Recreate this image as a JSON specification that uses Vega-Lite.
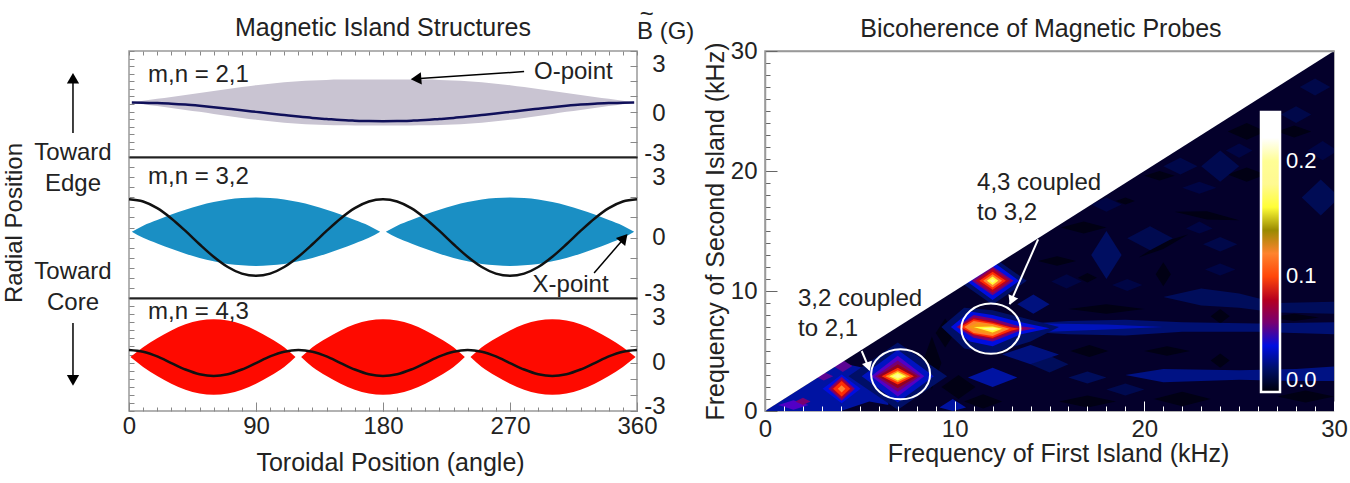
{
"$schema":"https://vega.github.io/schema/vega-lite/v6.json",
"background":"white",
"padding":{"left":2,"top":2,"right":0,"bottom":0},
"config":{"font":"Liberation Sans","view":{"stroke":"#999","strokeWidth":1.5},"axis":{"grid":false,"labelColor":"#222","titleColor":"#222","labelFontSize":24,"titleFontSize":25,"titleFontWeight":"normal"},"text":{"fontSize":24,"color":"#222"}},
"datasets":{
"island21":[{"a":2,"hi":0.6,"lo":0.6},{"a":10,"hi":0.72,"lo":0.48},{"a":20,"hi":0.84,"lo":0.36},{"a":30,"hi":0.96,"lo":0.24},{"a":40,"hi":1.09,"lo":0.11},{"a":50,"hi":1.22,"lo":-0.02},{"a":60,"hi":1.36,"lo":-0.16},{"a":70,"hi":1.49,"lo":-0.29},{"a":80,"hi":1.62,"lo":-0.42},{"a":90,"hi":1.74,"lo":-0.54},{"a":100,"hi":1.84,"lo":-0.64},{"a":110,"hi":1.93,"lo":-0.73},{"a":120,"hi":2,"lo":-0.8},{"a":130,"hi":2.05,"lo":-0.85},{"a":140,"hi":2.09,"lo":-0.89},{"a":150,"hi":2.11,"lo":-0.91},{"a":160,"hi":2.12,"lo":-0.92},{"a":180,"hi":2.12,"lo":-0.92},{"a":200,"hi":2.12,"lo":-0.92},{"a":210,"hi":2.11,"lo":-0.91},{"a":220,"hi":2.09,"lo":-0.89},{"a":230,"hi":2.05,"lo":-0.85},{"a":240,"hi":2,"lo":-0.8},{"a":250,"hi":1.93,"lo":-0.73},{"a":260,"hi":1.84,"lo":-0.64},{"a":270,"hi":1.74,"lo":-0.54},{"a":280,"hi":1.62,"lo":-0.42},{"a":290,"hi":1.49,"lo":-0.29},{"a":300,"hi":1.36,"lo":-0.16},{"a":310,"hi":1.22,"lo":-0.02},{"a":320,"hi":1.09,"lo":0.11},{"a":330,"hi":0.96,"lo":0.24},{"a":340,"hi":0.84,"lo":0.36},{"a":350,"hi":0.72,"lo":0.48},{"a":358,"hi":0.6,"lo":0.6}],
"curve21":[{"a":2,"b":0.6},{"a":10,"b":0.59},{"a":20,"b":0.56},{"a":30,"b":0.52},{"a":40,"b":0.46},{"a":50,"b":0.38},{"a":60,"b":0.29},{"a":70,"b":0.19},{"a":80,"b":0.09},{"a":90,"b":-0.02},{"a":100,"b":-0.13},{"a":110,"b":-0.23},{"a":120,"b":-0.33},{"a":130,"b":-0.42},{"a":140,"b":-0.49},{"a":150,"b":-0.56},{"a":160,"b":-0.6},{"a":170,"b":-0.63},{"a":180,"b":-0.64},{"a":190,"b":-0.63},{"a":200,"b":-0.6},{"a":210,"b":-0.56},{"a":220,"b":-0.49},{"a":230,"b":-0.42},{"a":240,"b":-0.33},{"a":250,"b":-0.23},{"a":260,"b":-0.13},{"a":270,"b":-0.02},{"a":280,"b":0.09},{"a":290,"b":0.19},{"a":300,"b":0.29},{"a":310,"b":0.38},{"a":320,"b":0.46},{"a":330,"b":0.52},{"a":340,"b":0.56},{"a":350,"b":0.59},{"a":358,"b":0.6}],
"island32":[{"i":1,"a":2,"hi":0.29,"lo":0.29},{"i":1,"a":10,"hi":0.59,"lo":-0.01},{"i":1,"a":20,"hi":0.87,"lo":-0.29},{"i":1,"a":30,"hi":1.14,"lo":-0.56},{"i":1,"a":40,"hi":1.38,"lo":-0.8},{"i":1,"a":50,"hi":1.59,"lo":-1.01},{"i":1,"a":60,"hi":1.76,"lo":-1.18},{"i":1,"a":70,"hi":1.89,"lo":-1.31},{"i":1,"a":80,"hi":1.96,"lo":-1.38},{"i":1,"a":90,"hi":1.99,"lo":-1.41},{"i":1,"a":100,"hi":1.96,"lo":-1.38},{"i":1,"a":110,"hi":1.89,"lo":-1.31},{"i":1,"a":120,"hi":1.76,"lo":-1.18},{"i":1,"a":130,"hi":1.59,"lo":-1.01},{"i":1,"a":140,"hi":1.38,"lo":-0.8},{"i":1,"a":150,"hi":1.14,"lo":-0.56},{"i":1,"a":160,"hi":0.87,"lo":-0.29},{"i":1,"a":170,"hi":0.59,"lo":-0.01},{"i":1,"a":178,"hi":0.29,"lo":0.29},
{"i":2,"a":182,"hi":0.29,"lo":0.29},{"i":2,"a":190,"hi":0.59,"lo":-0.01},{"i":2,"a":200,"hi":0.87,"lo":-0.29},{"i":2,"a":210,"hi":1.14,"lo":-0.56},{"i":2,"a":220,"hi":1.38,"lo":-0.8},{"i":2,"a":230,"hi":1.59,"lo":-1.01},{"i":2,"a":240,"hi":1.76,"lo":-1.18},{"i":2,"a":250,"hi":1.89,"lo":-1.31},{"i":2,"a":260,"hi":1.96,"lo":-1.38},{"i":2,"a":270,"hi":1.99,"lo":-1.41},{"i":2,"a":280,"hi":1.96,"lo":-1.38},{"i":2,"a":290,"hi":1.89,"lo":-1.31},{"i":2,"a":300,"hi":1.76,"lo":-1.18},{"i":2,"a":310,"hi":1.59,"lo":-1.01},{"i":2,"a":320,"hi":1.38,"lo":-0.8},{"i":2,"a":330,"hi":1.14,"lo":-0.56},{"i":2,"a":340,"hi":0.87,"lo":-0.29},{"i":2,"a":350,"hi":0.59,"lo":-0.01},{"i":2,"a":358,"hi":0.29,"lo":0.29}],
"curve32":[{"a":0,"b":1.9},{"a":10,"b":1.79},{"a":20,"b":1.46},{"a":30,"b":0.95},{"a":40,"b":0.33},{"a":50,"b":-0.33},{"a":60,"b":-0.95},{"a":70,"b":-1.46},{"a":80,"b":-1.79},{"a":90,"b":-1.9},{"a":100,"b":-1.79},{"a":110,"b":-1.46},{"a":120,"b":-0.95},{"a":130,"b":-0.33},{"a":140,"b":0.33},{"a":150,"b":0.95},{"a":160,"b":1.46},{"a":170,"b":1.79},{"a":180,"b":1.9},{"a":190,"b":1.79},{"a":200,"b":1.46},{"a":210,"b":0.95},{"a":220,"b":0.33},{"a":230,"b":-0.33},{"a":240,"b":-0.95},{"a":250,"b":-1.46},{"a":260,"b":-1.79},{"a":270,"b":-1.9},{"a":280,"b":-1.79},{"a":290,"b":-1.46},{"a":300,"b":-0.95},{"a":310,"b":-0.33},{"a":320,"b":0.33},{"a":330,"b":0.95},{"a":340,"b":1.46},{"a":350,"b":1.79},{"a":360,"b":1.9}],
"island43":[{"i":1,"a":1,"hi":0.34,"lo":0.34},{"i":1,"a":10,"hi":0.95,"lo":-0.27},{"i":1,"a":20,"hi":1.51,"lo":-0.83},{"i":1,"a":30,"hi":1.99,"lo":-1.31},{"i":1,"a":40,"hi":2.37,"lo":-1.69},{"i":1,"a":50,"hi":2.6,"lo":-1.92},{"i":1,"a":60,"hi":2.68,"lo":-2},{"i":1,"a":70,"hi":2.6,"lo":-1.92},{"i":1,"a":80,"hi":2.37,"lo":-1.69},{"i":1,"a":90,"hi":1.99,"lo":-1.31},{"i":1,"a":100,"hi":1.51,"lo":-0.83},{"i":1,"a":110,"hi":0.95,"lo":-0.27},{"i":1,"a":118,"hi":0.34,"lo":0.34},
{"i":2,"a":122,"hi":0.34,"lo":0.34},{"i":2,"a":130,"hi":0.95,"lo":-0.27},{"i":2,"a":140,"hi":1.51,"lo":-0.83},{"i":2,"a":150,"hi":1.99,"lo":-1.31},{"i":2,"a":160,"hi":2.37,"lo":-1.69},{"i":2,"a":170,"hi":2.6,"lo":-1.92},{"i":2,"a":180,"hi":2.68,"lo":-2},{"i":2,"a":190,"hi":2.6,"lo":-1.92},{"i":2,"a":200,"hi":2.37,"lo":-1.69},{"i":2,"a":210,"hi":1.99,"lo":-1.31},{"i":2,"a":220,"hi":1.51,"lo":-0.83},{"i":2,"a":230,"hi":0.95,"lo":-0.27},{"i":2,"a":238,"hi":0.34,"lo":0.34},
{"i":3,"a":242,"hi":0.34,"lo":0.34},{"i":3,"a":250,"hi":0.95,"lo":-0.27},{"i":3,"a":260,"hi":1.51,"lo":-0.83},{"i":3,"a":270,"hi":1.99,"lo":-1.31},{"i":3,"a":280,"hi":2.37,"lo":-1.69},{"i":3,"a":290,"hi":2.6,"lo":-1.92},{"i":3,"a":300,"hi":2.68,"lo":-2},{"i":3,"a":310,"hi":2.6,"lo":-1.92},{"i":3,"a":320,"hi":2.37,"lo":-1.69},{"i":3,"a":330,"hi":1.99,"lo":-1.31},{"i":3,"a":340,"hi":1.51,"lo":-0.83},{"i":3,"a":350,"hi":0.95,"lo":-0.27},{"i":3,"a":359,"hi":0.34,"lo":0.34}],
"curve43":[{"a":0,"b":0.78},{"a":10,"b":0.67},{"a":20,"b":0.38},{"a":30,"b":-0.03},{"a":40,"b":-0.43},{"a":50,"b":-0.72},{"a":60,"b":-0.83},{"a":70,"b":-0.72},{"a":80,"b":-0.43},{"a":90,"b":-0.03},{"a":100,"b":0.38},{"a":110,"b":0.67},{"a":120,"b":0.78},{"a":130,"b":0.67},{"a":140,"b":0.38},{"a":150,"b":-0.03},{"a":160,"b":-0.43},{"a":170,"b":-0.72},{"a":180,"b":-0.83},{"a":190,"b":-0.72},{"a":200,"b":-0.43},{"a":210,"b":-0.03},{"a":220,"b":0.38},{"a":230,"b":0.67},{"a":240,"b":0.78},{"a":250,"b":0.67},{"a":260,"b":0.38},{"a":270,"b":-0.03},{"a":280,"b":-0.43},{"a":290,"b":-0.72},{"a":300,"b":-0.83},{"a":310,"b":-0.72},{"a":320,"b":-0.43},{"a":330,"b":-0.03},{"a":340,"b":0.38},{"a":350,"b":0.67},{"a":360,"b":0.78}],
"contours":[
{"c":0,"v":0.008,"x":0,"y":30,"y2":0},{"c":0,"v":0.008,"x":30,"y":30,"y2":0},
{"c":1,"v":0.03,"x":0,"y":0,"y2":0},{"c":1,"v":0.03,"x":2,"y":2,"y2":0},{"c":1,"v":0.03,"x":4,"y":4,"y2":0},{"c":1,"v":0.03,"x":5.5,"y":3.5,"y2":0.8},{"c":1,"v":0.03,"x":6.5,"y":1,"y2":0.5},
{"c":2,"v":0.002,"x":15.6,"y":15.3,"y2":15.3},{"c":2,"v":0.002,"x":16.8,"y":15.8,"y2":14.8},{"c":2,"v":0.002,"x":18,"y":15.3,"y2":15.3},
{"c":3,"v":0.002,"x":18.5,"y":17.5,"y2":17.5},{"c":3,"v":0.002,"x":19,"y":17.8,"y2":17.2},{"c":3,"v":0.002,"x":19.5,"y":17.5,"y2":17.5},
{"c":4,"v":0.002,"x":20,"y":19.6,"y2":19.6},{"c":4,"v":0.002,"x":20.8,"y":20,"y2":19.2},{"c":4,"v":0.002,"x":21.6,"y":19.6,"y2":19.6},
{"c":5,"v":0.002,"x":21.6,"y":16.6,"y2":16.6},{"c":5,"v":0.002,"x":23.3,"y":16.65,"y2":15.95},{"c":5,"v":0.002,"x":25,"y":15.9,"y2":15.9},
{"c":6,"v":0.002,"x":19.7,"y":12.8,"y2":12.8},{"c":6,"v":0.002,"x":21,"y":14.1,"y2":13.5},{"c":6,"v":0.002,"x":22.3,"y":14.7,"y2":14.7},
{"c":7,"v":0.002,"x":20.6,"y":11.4,"y2":11.4},{"c":7,"v":0.002,"x":21,"y":12.4,"y2":10.4},{"c":7,"v":0.002,"x":21.4,"y":11.4,"y2":11.4},
{"c":8,"v":0.002,"x":16.5,"y":11.1,"y2":11.1},{"c":8,"v":0.002,"x":17,"y":11.5,"y2":10.7},{"c":8,"v":0.002,"x":17.5,"y":11.1,"y2":11.1},
{"c":9,"v":0.002,"x":14.4,"y":12.5,"y2":12.5},{"c":9,"v":0.002,"x":15.4,"y":12.9,"y2":12.1},{"c":9,"v":0.002,"x":16.4,"y":12.5,"y2":12.5},
{"c":10,"v":0.002,"x":27,"y":23.3,"y2":23.3},{"c":10,"v":0.002,"x":27.9,"y":23.8,"y2":22.8},{"c":10,"v":0.002,"x":28.8,"y":23.3,"y2":23.3},
{"c":11,"v":0.002,"x":24.4,"y":23.3,"y2":23.3},{"c":11,"v":0.002,"x":25.4,"y":24,"y2":22.6},{"c":11,"v":0.002,"x":26.4,"y":23.3,"y2":23.3},
{"c":12,"v":0.002,"x":24.4,"y":19.7,"y2":19.7},{"c":12,"v":0.002,"x":25.4,"y":20.3,"y2":19.1},{"c":12,"v":0.002,"x":26.4,"y":19.7,"y2":19.7},
{"c":13,"v":0.002,"x":23.5,"y":7.9,"y2":7.9},{"c":13,"v":0.002,"x":24,"y":8.5,"y2":7.3},{"c":13,"v":0.002,"x":24.5,"y":7.9,"y2":7.9},
{"c":14,"v":0.002,"x":26.6,"y":7.8,"y2":7.8},{"c":14,"v":0.002,"x":27.9,"y":8.1,"y2":7.5},{"c":14,"v":0.002,"x":29.2,"y":7.8,"y2":7.8},
{"c":15,"v":0.002,"x":16.1,"y":5,"y2":5},{"c":15,"v":0.002,"x":17.1,"y":5.5,"y2":4.5},{"c":15,"v":0.002,"x":18.1,"y":5,"y2":5},
{"c":16,"v":0.002,"x":20,"y":5,"y2":5},{"c":16,"v":0.002,"x":21.2,"y":5.4,"y2":4.6},{"c":16,"v":0.002,"x":22.4,"y":5,"y2":5},
{"c":17,"v":0.002,"x":23.5,"y":4.2,"y2":4.2},{"c":17,"v":0.002,"x":24,"y":4.8,"y2":3.6},{"c":17,"v":0.002,"x":24.5,"y":4.2,"y2":4.2},
{"c":18,"v":0.002,"x":16,"y":8.5,"y2":8.5},{"c":18,"v":0.002,"x":18,"y":8.9,"y2":8.1},{"c":18,"v":0.002,"x":20,"y":8.5,"y2":8.5},
{"c":19,"v":0.002,"x":20.5,"y":1,"y2":1},{"c":19,"v":0.002,"x":22,"y":1.6,"y2":0.4},{"c":19,"v":0.002,"x":23.5,"y":1,"y2":1},
{"c":20,"v":0.002,"x":15.5,"y":0.8,"y2":0.8},{"c":20,"v":0.002,"x":17,"y":1.3,"y2":0.3},{"c":20,"v":0.002,"x":18.5,"y":0.8,"y2":0.8},
{"c":21,"v":0.002,"x":27,"y":1.2,"y2":1.2},{"c":21,"v":0.002,"x":28.5,"y":1.7,"y2":0.7},{"c":21,"v":0.002,"x":30,"y":1.2,"y2":1.2},
{"c":22,"v":0.016,"x":23,"y":20.4,"y2":20.4},{"c":22,"v":0.016,"x":24,"y":21.7,"y2":19.1},{"c":22,"v":0.016,"x":25,"y":20.4,"y2":20.4},
{"c":23,"v":0.014,"x":24.3,"y":21.7,"y2":21.7},{"c":23,"v":0.014,"x":25,"y":22.3,"y2":21.1},{"c":23,"v":0.014,"x":25.7,"y":21.7,"y2":21.7},
{"c":24,"v":0.014,"x":22,"y":18.6,"y2":18.6},{"c":24,"v":0.014,"x":22.9,"y":19.1,"y2":18.1},{"c":24,"v":0.014,"x":23.8,"y":18.6,"y2":18.6},
{"c":25,"v":0.015,"x":21,"y":20.4,"y2":20.4},{"c":25,"v":0.015,"x":21.9,"y":21.1,"y2":19.7},{"c":25,"v":0.015,"x":22.8,"y":20.4,"y2":20.4},
{"c":26,"v":0.019,"x":17.2,"y":13,"y2":13},{"c":26,"v":0.019,"x":18,"y":15,"y2":11},{"c":26,"v":0.019,"x":18.8,"y":13,"y2":13},
{"c":27,"v":0.016,"x":19.1,"y":14.4,"y2":14.4},{"c":27,"v":0.016,"x":20.3,"y":15.4,"y2":13.4},{"c":27,"v":0.016,"x":21.5,"y":14.4,"y2":14.4},
{"c":28,"v":0.014,"x":22.2,"y":15.2,"y2":15.2},{"c":28,"v":0.014,"x":22.9,"y":15.8,"y2":14.8},{"c":28,"v":0.014,"x":23.6,"y":15.2,"y2":15.2},
{"c":29,"v":0.015,"x":23.1,"y":13.9,"y2":13.9},{"c":29,"v":0.015,"x":24,"y":14.5,"y2":13.3},{"c":29,"v":0.015,"x":24.9,"y":13.9,"y2":13.9},
{"c":30,"v":0.014,"x":23.2,"y":11.8,"y2":11.8},{"c":30,"v":0.014,"x":24,"y":12.3,"y2":11.3},{"c":30,"v":0.014,"x":24.8,"y":11.8,"y2":11.8},
{"c":31,"v":0.014,"x":15.1,"y":10.8,"y2":10.8},{"c":31,"v":0.014,"x":15.9,"y":11.4,"y2":10.2},{"c":31,"v":0.014,"x":16.7,"y":10.8,"y2":10.8},
{"c":32,"v":0.014,"x":18.3,"y":10.5,"y2":10.5},{"c":32,"v":0.014,"x":19.1,"y":11,"y2":10},{"c":32,"v":0.014,"x":19.9,"y":10.5,"y2":10.5},
{"c":33,"v":0.015,"x":27.2,"y":24.7,"y2":24.7},{"c":33,"v":0.015,"x":28,"y":25.4,"y2":24},{"c":33,"v":0.015,"x":28.8,"y":24.7,"y2":24.7},
{"c":34,"v":0.015,"x":28.2,"y":27,"y2":27},{"c":34,"v":0.015,"x":29,"y":27.7,"y2":26.3},{"c":34,"v":0.015,"x":29.8,"y":27,"y2":27},
{"c":35,"v":0.017,"x":28.3,"y":17.8,"y2":17.8},{"c":35,"v":0.017,"x":29.3,"y":19.3,"y2":16.3},{"c":35,"v":0.017,"x":30.3,"y":17.8,"y2":17.8},
{"c":36,"v":0.014,"x":28.6,"y":21.7,"y2":21.7},{"c":36,"v":0.014,"x":29.4,"y":22.5,"y2":20.9},{"c":36,"v":0.014,"x":30.2,"y":21.7,"y2":21.7},
{"c":37,"v":0.014,"x":17.2,"y":17.2,"y2":17.2},{"c":37,"v":0.014,"x":18,"y":17.8,"y2":16.6},{"c":37,"v":0.014,"x":18.8,"y":17.2,"y2":17.2},
{"c":38,"v":0.018,"x":21,"y":9.5,"y2":9.5},{"c":38,"v":0.018,"x":23,"y":10.2,"y2":8.8},{"c":38,"v":0.018,"x":25,"y":9.8,"y2":8.6},{"c":38,"v":0.018,"x":27,"y":9,"y2":8.2},{"c":38,"v":0.018,"x":30,"y":9.1,"y2":8.1},
{"c":39,"v":0.022,"x":13,"y":7.2,"y2":6.7},{"c":39,"v":0.022,"x":16,"y":7.5,"y2":6.4},{"c":39,"v":0.022,"x":19,"y":7.6,"y2":6.3},{"c":39,"v":0.022,"x":22,"y":7.4,"y2":6.6},{"c":39,"v":0.022,"x":26,"y":7.3,"y2":6.6},{"c":39,"v":0.022,"x":30,"y":7.4,"y2":6.4},
{"c":40,"v":0.034,"x":12.5,"y":7.25,"y2":6.6},{"c":40,"v":0.034,"x":15,"y":7.3,"y2":6.6},{"c":40,"v":0.034,"x":18,"y":7.2,"y2":6.8},{"c":40,"v":0.034,"x":21,"y":7,"y2":7},
{"c":41,"v":0.025,"x":19,"y":3,"y2":3},{"c":41,"v":0.025,"x":21,"y":3.5,"y2":2.4},{"c":41,"v":0.025,"x":25,"y":3.4,"y2":2.6},{"c":41,"v":0.025,"x":28,"y":3.5,"y2":2.5},{"c":41,"v":0.025,"x":30,"y":3.7,"y2":2.5},
{"c":42,"v":0.018,"x":14,"y":3.9,"y2":3.9},{"c":42,"v":0.018,"x":15,"y":4.6,"y2":3.2},{"c":42,"v":0.018,"x":16,"y":3.9,"y2":3.9},
{"c":43,"v":0.018,"x":16,"y":2.8,"y2":2.8},{"c":43,"v":0.018,"x":17,"y":3.3,"y2":2.3},{"c":43,"v":0.018,"x":18,"y":2.8,"y2":2.8},
{"c":44,"v":0.016,"x":18,"y":1.8,"y2":1.8},{"c":44,"v":0.016,"x":19,"y":2.3,"y2":1.3},{"c":44,"v":0.016,"x":20,"y":1.8,"y2":1.8},
{"c":45,"v":0.024,"x":13.3,"y":8.9,"y2":8.9},{"c":45,"v":0.024,"x":14.15,"y":9.7,"y2":8.1},{"c":45,"v":0.024,"x":15,"y":8.9,"y2":8.9},
{"c":46,"v":0.024,"x":12.5,"y":4.7,"y2":4.7},{"c":46,"v":0.024,"x":14,"y":5.5,"y2":3.9},{"c":46,"v":0.024,"x":15.5,"y":4.7,"y2":4.7},
{"c":47,"v":0.03,"x":10.7,"y":2.8,"y2":2.8},{"c":47,"v":0.03,"x":12,"y":3.6,"y2":2},{"c":47,"v":0.03,"x":13.3,"y":2.8,"y2":2.8},
{"c":48,"v":0.03,"x":9.2,"y":0.3,"y2":0.3},{"c":48,"v":0.03,"x":9.9,"y":1,"y2":0},{"c":48,"v":0.03,"x":10.6,"y":0.3,"y2":0.3},
{"c":49,"v":0.002,"x":8.3,"y":4,"y2":4},{"c":49,"v":0.002,"x":8.8,"y":6.2,"y2":1.8},{"c":49,"v":0.002,"x":9.3,"y":4,"y2":4},
{"c":50,"v":0.002,"x":9,"y":6.5,"y2":6.5},{"c":50,"v":0.002,"x":9.5,"y":7.7,"y2":5.3},{"c":50,"v":0.002,"x":10,"y":6.5,"y2":6.5},
{"c":51,"v":0.002,"x":9.3,"y":2,"y2":2},{"c":51,"v":0.002,"x":10.2,"y":3,"y2":1},{"c":51,"v":0.002,"x":11.1,"y":2,"y2":2},
{"c":52,"v":0.002,"x":10.5,"y":0.8,"y2":0.8},{"c":52,"v":0.002,"x":11.5,"y":1.4,"y2":0.2},{"c":52,"v":0.002,"x":12.5,"y":0.8,"y2":0.8},
{"c":53,"v":0.02,"x":4.4,"y":2.9,"y2":2.9},{"c":53,"v":0.02,"x":7,"y":5.7,"y2":0.1},{"c":53,"v":0.02,"x":9.6,"y":2.9,"y2":2.9},
{"c":54,"v":0.035,"x":5.1,"y":2.9,"y2":2.9},{"c":54,"v":0.035,"x":7,"y":5.1,"y2":0.7},{"c":54,"v":0.035,"x":8.9,"y":2.9,"y2":2.9},
{"c":55,"v":0.05,"x":5.6,"y":2.9,"y2":2.9},{"c":55,"v":0.05,"x":7,"y":4.6,"y2":1.2},{"c":55,"v":0.05,"x":8.4,"y":2.9,"y2":2.9},
{"c":56,"v":0.06,"x":5.8,"y":2.9,"y2":2.9},{"c":56,"v":0.06,"x":7,"y":4.2,"y2":1.6},{"c":56,"v":0.06,"x":8.2,"y":2.9,"y2":2.9},
{"c":57,"v":0.075,"x":5.95,"y":2.9,"y2":2.9},{"c":57,"v":0.075,"x":7,"y":3.9,"y2":1.9},{"c":57,"v":0.075,"x":8.05,"y":2.9,"y2":2.9},
{"c":58,"v":0.095,"x":6.15,"y":2.9,"y2":2.9},{"c":58,"v":0.095,"x":7,"y":3.6,"y2":2.2},{"c":58,"v":0.095,"x":7.85,"y":2.9,"y2":2.9},
{"c":59,"v":0.125,"x":6.35,"y":2.9,"y2":2.9},{"c":59,"v":0.125,"x":7,"y":3.4,"y2":2.4},{"c":59,"v":0.125,"x":7.65,"y":2.9,"y2":2.9},
{"c":60,"v":0.16,"x":6.55,"y":2.9,"y2":2.9},{"c":60,"v":0.16,"x":7,"y":3.25,"y2":2.55},{"c":60,"v":0.16,"x":7.45,"y":2.9,"y2":2.9},
{"c":61,"v":0.175,"x":6.7,"y":2.9,"y2":2.9},{"c":61,"v":0.175,"x":7,"y":3.12,"y2":2.68},{"c":61,"v":0.175,"x":7.3,"y":2.9,"y2":2.9},
{"c":62,"v":0.2,"x":6.88,"y":2.9,"y2":2.9},{"c":62,"v":0.2,"x":7,"y":2.99,"y2":2.81},{"c":62,"v":0.2,"x":7.12,"y":2.9,"y2":2.9},
{"c":63,"v":0.04,"x":3.04,"y":1.85,"y2":1.85},{"c":63,"v":0.04,"x":4.04,"y":3.05,"y2":0.65},{"c":63,"v":0.04,"x":5.04,"y":1.85,"y2":1.85},
{"c":64,"v":0.055,"x":3.6,"y":3.75,"y2":3.75},{"c":64,"v":0.055,"x":4.1,"y":4.25,"y2":3.25},{"c":64,"v":0.055,"x":4.6,"y":3.75,"y2":3.75},
{"c":65,"v":0.055,"x":2.6,"y":2.9,"y2":2.9},{"c":65,"v":0.055,"x":3.1,"y":3.25,"y2":2.55},{"c":65,"v":0.055,"x":3.6,"y":2.9,"y2":2.9},
{"c":66,"v":0.05,"x":0.7,"y":0.5,"y2":0.5},{"c":66,"v":0.05,"x":1.5,"y":0.9,"y2":0.1},{"c":66,"v":0.05,"x":2.3,"y":0.5,"y2":0.5},
{"c":67,"v":0.06,"x":1.6,"y":0.8,"y2":0.8},{"c":67,"v":0.06,"x":2,"y":1.1,"y2":0.5},{"c":67,"v":0.06,"x":2.4,"y":0.8,"y2":0.8},
{"c":68,"v":0.06,"x":3.34,"y":1.85,"y2":1.85},{"c":68,"v":0.06,"x":4.04,"y":2.85,"y2":0.85},{"c":68,"v":0.06,"x":4.74,"y":1.85,"y2":1.85},
{"c":69,"v":0.08,"x":3.49,"y":1.85,"y2":1.85},{"c":69,"v":0.08,"x":4.04,"y":2.65,"y2":1.05},{"c":69,"v":0.08,"x":4.59,"y":1.85,"y2":1.85},
{"c":70,"v":0.095,"x":3.59,"y":1.85,"y2":1.85},{"c":70,"v":0.095,"x":4.04,"y":2.5,"y2":1.2},{"c":70,"v":0.095,"x":4.49,"y":1.85,"y2":1.85},
{"c":71,"v":0.12,"x":3.84,"y":1.85,"y2":1.85},{"c":71,"v":0.12,"x":4.04,"y":2.15,"y2":1.55},{"c":71,"v":0.12,"x":4.24,"y":1.85,"y2":1.85},
{"c":72,"v":0.02,"x":10.2,"y":10.85,"y2":10.85},{"c":72,"v":0.02,"x":12,"y":12.85,"y2":8.85},{"c":72,"v":0.02,"x":13.8,"y":10.85,"y2":10.85},
{"c":73,"v":0.04,"x":10.6,"y":10.85,"y2":10.85},{"c":73,"v":0.04,"x":12,"y":12.45,"y2":9.25},{"c":73,"v":0.04,"x":13.4,"y":10.85,"y2":10.85},
{"c":74,"v":0.06,"x":10.9,"y":10.85,"y2":10.85},{"c":74,"v":0.06,"x":12,"y":12.05,"y2":9.65},{"c":74,"v":0.06,"x":13.1,"y":10.85,"y2":10.85},
{"c":75,"v":0.08,"x":11.1,"y":10.85,"y2":10.85},{"c":75,"v":0.08,"x":12,"y":11.85,"y2":9.85},{"c":75,"v":0.08,"x":12.9,"y":10.85,"y2":10.85},
{"c":76,"v":0.095,"x":11.3,"y":10.85,"y2":10.85},{"c":76,"v":0.095,"x":12,"y":11.6,"y2":10.1},{"c":76,"v":0.095,"x":12.7,"y":10.85,"y2":10.85},
{"c":77,"v":0.12,"x":11.5,"y":10.85,"y2":10.85},{"c":77,"v":0.12,"x":12,"y":11.4,"y2":10.3},{"c":77,"v":0.12,"x":12.5,"y":10.85,"y2":10.85},
{"c":78,"v":0.16,"x":11.7,"y":10.85,"y2":10.85},{"c":78,"v":0.16,"x":12,"y":11.2,"y2":10.5},{"c":78,"v":0.16,"x":12.3,"y":10.85,"y2":10.85},
{"c":79,"v":0.175,"x":11.85,"y":10.85,"y2":10.85},{"c":79,"v":0.175,"x":12,"y":11.03,"y2":10.67},{"c":79,"v":0.175,"x":12.15,"y":10.85,"y2":10.85},
{"c":80,"v":0.02,"x":9.3,"y":7,"y2":7},{"c":80,"v":0.02,"x":10.5,"y":8.6,"y2":5.2},{"c":80,"v":0.02,"x":12,"y":8.4,"y2":4.8},{"c":80,"v":0.02,"x":14,"y":7.6,"y2":5.8},{"c":80,"v":0.02,"x":15.5,"y":7,"y2":7},
{"c":81,"v":0.04,"x":9.8,"y":7,"y2":7},{"c":81,"v":0.04,"x":10.8,"y":8.3,"y2":5.8},{"c":81,"v":0.04,"x":12,"y":8,"y2":5.4},{"c":81,"v":0.04,"x":13.5,"y":7.4,"y2":6.4},{"c":81,"v":0.04,"x":15,"y":6.9,"y2":6.9},
{"c":82,"v":0.06,"x":10.1,"y":7,"y2":7},{"c":82,"v":0.06,"x":11,"y":8,"y2":6.1},{"c":82,"v":0.06,"x":12,"y":7.7,"y2":5.8},{"c":82,"v":0.06,"x":13.3,"y":7.1,"y2":6.6},{"c":82,"v":0.06,"x":14.3,"y":6.9,"y2":6.9},
{"c":83,"v":0.08,"x":10.2,"y":7,"y2":7},{"c":83,"v":0.08,"x":11,"y":7.8,"y2":6.3},{"c":83,"v":0.08,"x":12,"y":7.5,"y2":6},{"c":83,"v":0.08,"x":13,"y":7,"y2":6.6},{"c":83,"v":0.08,"x":13.7,"y":6.9,"y2":6.9},
{"c":84,"v":0.095,"x":10.3,"y":7,"y2":7},{"c":84,"v":0.095,"x":11,"y":7.65,"y2":6.4},{"c":84,"v":0.095,"x":12,"y":7.35,"y2":6.1},{"c":84,"v":0.095,"x":13,"y":6.95,"y2":6.7},{"c":84,"v":0.095,"x":13.4,"y":6.85,"y2":6.85},
{"c":85,"v":0.12,"x":10.5,"y":7,"y2":7},{"c":85,"v":0.12,"x":11,"y":7.5,"y2":6.5},{"c":85,"v":0.12,"x":12,"y":7.25,"y2":6.25},{"c":85,"v":0.12,"x":12.9,"y":6.85,"y2":6.85},
{"c":86,"v":0.128,"x":10.7,"y":7,"y2":7},{"c":86,"v":0.128,"x":11.2,"y":7.35,"y2":6.6},{"c":86,"v":0.128,"x":12,"y":7.15,"y2":6.4},{"c":86,"v":0.128,"x":12.7,"y":6.85,"y2":6.85},
{"c":87,"v":0.16,"x":11,"y":7,"y2":7},{"c":87,"v":0.16,"x":12,"y":7.05,"y2":6.55},{"c":87,"v":0.16,"x":12.5,"y":6.85,"y2":6.85},
{"c":88,"v":0.18,"x":11.4,"y":6.9,"y2":6.9},{"c":88,"v":0.18,"x":12,"y":6.95,"y2":6.7},{"c":88,"v":0.18,"x":12.3,"y":6.85,"y2":6.85}
]
},
"bounds":"flush",
"spacing":636,
"hconcat":[
{"bounds":"flush","spacing":0,"vconcat":[
{"width":508,"height":106,
"encoding":{"x":{"field":"a","type":"quantitative","scale":{"domain":[0,360]},"axis":null},"y":{"field":"b","type":"quantitative","scale":{"domain":[-3,4]},"axis":null}},
"resolve":{"axis":{"x":"independent","y":"independent"}},
"layer":[
{"data":{"name":"island21"},"mark":{"type":"area","color":"#c9c4d2","interpolate":"monotone"},"encoding":{
"x":{"field":"a","type":"quantitative","scale":{"domain":[0,360]},"axis":{"orient":"bottom","title":null,"labels":false,"ticks":false,"domain":false}},
"y":{"field":"hi","type":"quantitative","scale":{"domain":[-3,4]},"axis":{"orient":"left","title":null,"labels":false,"domain":false,"values":[-3,-2.5,-2,-1.5,-1,-0.5,0,0.5,1,1.5,2,2.5,3,3.5,4],"tickSize":-5,"tickColor":"#888"}},"y2":{"field":"lo"}}},
{"data":{"name":"curve21"},"mark":{"type":"line","color":"#10105a","strokeWidth":2.5,"interpolate":"monotone"},"encoding":{
"x":{"field":"a","type":"quantitative","scale":{"domain":[0,360]},"axis":{"orient":"top","title":null,"labels":false,"domain":false,"values":[0,10,20,30,40,50,60,70,80,90,100,110,120,130,140,150,160,170,180,190,200,210,220,230,240,250,260,270,280,290,300,310,320,330,340,350,360],"tickSize":-4,"tickColor":"#888"}},
"y":{"field":"b","type":"quantitative","scale":{"domain":[-3,4]},"axis":{"orient":"right","title":null,"domain":false,"values":[-3,-2,-1,0,1,2,3,4],"labelExpr":"datum.value==-3?'-3':datum.value==3||datum.value==0?datum.label:''","tickSize":-7,"tickColor":"#888","labelAlign":"right","labelPadding":35,"labelOverlap":false,"labelOffset":{"condition":[{"test":"datum.value==-3","value":-4},{"test":"datum.value==3","value":-2},{"test":"datum.value==0","value":2}],"value":0}}}}},
{"data":{"values":[{"a":13.5,"b":2.42,"t":"m,n = 2,1"},{"a":287,"b":2.62,"t":"O-point"},{"a":360,"b":5.27,"t":"B (G)"},{"a":362,"b":6.35,"t":"~"}]},"mark":{"type":"text","align":"left"},"encoding":{"text":{"field":"t"}}},
{"data":{"values":[{"a":180,"b":5.54,"t":"Magnetic Island Structures"}]},"mark":{"type":"text","align":"center","fontSize":25},"encoding":{"text":{"field":"t"}}},
{"data":{"values":[{"a":280,"a2":203.4,"b":2.64,"b2":2.16},{"a":-39.7,"a2":-39.7,"b":-1.42,"b2":2.4}]},"mark":{"type":"rule","color":"black","strokeWidth":1.5},"encoding":{"x2":{"field":"a2"},"y2":{"field":"b2"}}},
{"data":{"values":[{"a":203.4,"b":2.16}]},"mark":{"type":"point","shape":"triangle-up","filled":true,"size":150,"color":"black","opacity":1,"angle":265.5}},
{"data":{"values":[{"a":-39.7,"b":2.2}]},"mark":{"type":"point","shape":"triangle-up","filled":true,"size":150,"color":"black","opacity":1}}
]},
{"width":508,"height":141,
"encoding":{"x":{"field":"a","type":"quantitative","scale":{"domain":[0,360]},"axis":null},"y":{"field":"b","type":"quantitative","scale":{"domain":[-3,4]},"axis":null}},
"resolve":{"axis":{"x":"independent","y":"independent"}},
"layer":[
{"data":{"name":"island32"},"mark":{"type":"area","color":"#1a8fc4","interpolate":"monotone"},"encoding":{
"y":{"field":"hi","type":"quantitative","scale":{"domain":[-3,4]},"axis":{"orient":"left","title":null,"labels":false,"domain":false,"values":[-3,-2.5,-2,-1.5,-1,-0.5,0,0.5,1,1.5,2,2.5,3,3.5,4],"tickSize":-5,"tickColor":"#888"}},"y2":{"field":"lo"},"detail":{"field":"i"}}},
{"data":{"name":"curve32"},"mark":{"type":"line","color":"#111","strokeWidth":2.5,"interpolate":"monotone"},"encoding":{
"x":{"field":"a","type":"quantitative","scale":{"domain":[0,360]},"axis":{"orient":"top","title":null,"labels":false,"ticks":false,"domainColor":"#222","domainWidth":2,"zindex":1}},
"y":{"field":"b","type":"quantitative","scale":{"domain":[-3,4]},"axis":{"orient":"right","title":null,"domain":false,"values":[-3,-2,-1,0,1,2,3,4],"labelExpr":"datum.value==-3?'-3':datum.value==3||datum.value==0?datum.label:''","tickSize":-7,"tickColor":"#888","labelAlign":"right","labelPadding":35,"labelOverlap":false,"labelOffset":{"condition":{"test":"datum.value==-3","value":-5},"value":0}}}}},
{"data":{"values":[{"a":13.5,"b":3,"t":"m,n = 3,2"},{"a":286,"b":-2.35,"t":"X-point"}]},"mark":{"type":"text","align":"left"},"encoding":{"text":{"field":"t"}}},
{"data":{"values":[{"a":-39.7,"b":4.2,"t":"Toward"},{"a":-39.7,"b":2.66,"t":"Edge"},{"a":-39.7,"b":-1.72,"t":"Toward"},{"a":-39.7,"b":-3.25,"t":"Core"}]},"mark":{"type":"text","align":"center"},"encoding":{"text":{"field":"t"}}},
{"data":{"values":[{"a":-80.5,"b":0.72,"t":"Radial Position"}]},"mark":{"type":"text","align":"center","angle":270},"encoding":{"text":{"field":"t"}}},
{"data":{"values":[{"a":329.6,"a2":351,"b":-1.76,"b2":-0.02}]},"mark":{"type":"rule","color":"black","strokeWidth":1.5},"encoding":{"x2":{"field":"a2"},"y2":{"field":"b2"}}},
{"data":{"values":[{"a":350.8,"b":-0.02}]},"mark":{"type":"point","shape":"triangle-up","filled":true,"size":150,"color":"black","opacity":1,"angle":41}}
]},
{"width":508,"height":113,
"encoding":{"x":{"field":"a","type":"quantitative","scale":{"domain":[0,360]},"axis":null},"y":{"field":"b","type":"quantitative","scale":{"domain":[-3,4]},"axis":null}},
"resolve":{"axis":{"x":"independent","y":"independent"}},
"layer":[
{"data":{"name":"island43"},"mark":{"type":"area","color":"#fe0a00","interpolate":"monotone"},"encoding":{
"x":{"field":"a","type":"quantitative","scale":{"domain":[0,360]},"axis":{"orient":"bottom","title":"Toroidal Position (angle)","titleX":261,"domain":false,"values":[0,90,180,270,360],"tickSize":-9,"tickColor":"#888","labelPadding":12,"titlePadding":12,"labelFlush":false}},
"y":{"field":"hi","type":"quantitative","scale":{"domain":[-3,4]},"axis":{"orient":"left","title":null,"labels":false,"domain":false,"values":[-3,-2.5,-2,-1.5,-1,-0.5,0,0.5,1,1.5,2,2.5,3,3.5,4],"tickSize":-5,"tickColor":"#888"}},"y2":{"field":"lo"},"detail":{"field":"i"}}},
{"data":{"name":"curve43"},"mark":{"type":"line","color":"#111","strokeWidth":2.5,"interpolate":"monotone"},"encoding":{
"x":{"field":"a","type":"quantitative","scale":{"domain":[0,360]},"axis":{"orient":"bottom","title":null,"labels":false,"domain":false,"values":[0,10,20,30,40,50,60,70,80,90,100,110,120,130,140,150,160,170,180,190,200,210,220,230,240,250,260,270,280,290,300,310,320,330,340,350,360],"tickSize":-4,"tickColor":"#888"}},
"y":{"field":"b","type":"quantitative","scale":{"domain":[-3,4]},"axis":{"orient":"right","title":null,"domain":false,"values":[-3,-2,-1,0,1,2,3,4],"labelExpr":"datum.value==-3?'-3':datum.value==3||datum.value==0?datum.label:''","tickSize":-7,"tickColor":"#888","labelAlign":"right","labelPadding":35,"labelOverlap":false,"labelOffset":{"condition":[{"test":"datum.value==-3","value":-5},{"test":"datum.value==3","value":3}],"value":0}}}}},
{"data":{"values":[{"a":13.5,"b":3.13,"t":"m,n = 4,3"}]},"mark":{"type":"text","align":"left"},"encoding":{"text":{"field":"t"},
"x":{"field":"a","type":"quantitative","scale":{"domain":[0,360]},"axis":{"orient":"top","title":null,"labels":false,"ticks":false,"domainColor":"#222","domainWidth":2,"zindex":1}}}},
{"data":{"values":[{"a":-39.7,"a2":-39.7,"b":2.45,"b2":-1.3}]},"mark":{"type":"rule","color":"black","strokeWidth":1.5},"encoding":{"x2":{"field":"a2"},"y2":{"field":"b2"}}},
{"data":{"values":[{"a":-39.7,"b":-1.1}]},"mark":{"type":"point","shape":"triangle-down","filled":true,"size":150,"color":"black","opacity":1}}
]}
]},
{"width":569,"height":360,
"encoding":{"x":{"field":"x","type":"quantitative","scale":{"domain":[0,30]},"axis":null},"y":{"field":"y","type":"quantitative","scale":{"domain":[0,30]},"axis":null}},
"resolve":{"axis":{"x":"independent","y":"independent"}},
"layer":[
{"data":{"name":"contours"},"mark":{"type":"area","clip":true},"encoding":{
"x":{"field":"x","type":"quantitative","scale":{"domain":[0,30]},"axis":{"orient":"bottom","title":"Frequency of First Island (kHz)","titleX":293,"domain":false,"values":[0,10,20,30],"tickSize":-10,"tickColor":"white","labelPadding":16,"titlePadding":0,"labelFlush":false,"zindex":1}},
"y":{"field":"y","type":"quantitative","scale":{"domain":[0,30]},"axis":{"orient":"left","title":"Frequency of Second Island (kHz)","domain":false,"values":[0,10,20,30],"tickSize":-12,"tickColor":"#666","labelPadding":20,"titlePadding":2,"labelFlush":false,"zindex":1}},
"y2":{"field":"y2"},"detail":{"field":"c"},
"color":{"field":"v","type":"quantitative","scale":{"domain":[0,0.012,0.045,0.056,0.0736,0.091,0.1186,0.1316,0.14,0.1576,0.1775,0.218,0.2424],"range":["#000008","#00003a","#0000ff","#5a0a8a","#8a0020","#ff0000","#ff8030","#f5a000","#9a8a00","#ffff20","#fff890","#ffffff","#ffffff"]},
"legend":{"orient":"none","legendX":1132,"legendY":61,"title":null,"type":"gradient","gradientLength":280,"gradientThickness":19,"gradientStrokeColor":"white","gradientStrokeWidth":2.5,"values":[0,0.1,0.2],"format":".1f","labelColor":"white","labelFontSize":22,"labelOffset":6}}}},
{"data":{"values":[{"x":0,"y":0,"y2":30},{"x":30,"y":30,"y2":30}]},"mark":{"type":"area","color":"white"},"encoding":{
"x":{"field":"x","type":"quantitative","scale":{"domain":[0,30]},"axis":{"orient":"bottom","title":null,"labels":false,"domain":false,"values":[0,1,2,3,4,5,6,7,8,9,10,11,12,13,14,15,16,17,18,19,20,21,22,23,24,25,26,27,28,29,30],"tickSize":-5,"tickColor":"white","zindex":1}},
"y":{"field":"y","type":"quantitative","scale":{"domain":[0,30]},"axis":{"orient":"left","title":null,"labels":false,"domain":true,"domainColor":"#999","domainWidth":1.5,"values":[0,1,2,3,4,5,6,7,8,9,10,11,12,13,14,15,16,17,18,19,20,21,22,23,24,25,26,27,28,29,30],"tickSize":-5,"tickColor":"#666","zindex":1}},
"y2":{"field":"y2"}}},
{"data":{"values":[{"x":7.15,"y":3.06},{"x":11.91,"y":6.86}]},"mark":{"type":"point","shape":"M-1,0A1,0.85,0,1,1,1,0A1,0.85,0,1,1,-1,0Z","size":3481,"filled":false,"stroke":"white","strokeWidth":2,"opacity":1},"encoding":{
"x":{"field":"x","type":"quantitative","scale":{"domain":[0,30]},"axis":{"orient":"top","title":null,"labels":false,"ticks":false,"domainColor":"#999","domainWidth":1.5,"zindex":1}}}},
{"data":{"values":[{"x":5.1,"x2":5.5,"y":5,"y2":3.5},{"x":14.4,"x2":12.9,"y":14.3,"y2":8.9}]},"mark":{"type":"rule","color":"white","strokeWidth":2},"encoding":{"x2":{"field":"x2"},"y2":{"field":"y2"}}},
{"data":{"values":[{"x":5.45,"y":3.7}]},"mark":{"type":"point","shape":"triangle-up","filled":true,"size":110,"color":"white","opacity":1,"angle":162}},
{"data":{"values":[{"x":13,"y":9.2}]},"mark":{"type":"point","shape":"triangle-up","filled":true,"size":110,"color":"white","opacity":1,"angle":203}},
{"data":{"values":[{"x":1.74,"y":9.33,"t":"3,2 coupled"},{"x":1.74,"y":6.83,"t":"to 2,1"},{"x":11.18,"y":19,"t":"4,3 coupled"},{"x":11.18,"y":16.5,"t":"to 3,2"}]},"mark":{"type":"text","align":"left"},"encoding":{"text":{"field":"t"}}},
{"data":{"values":[{"x":14.55,"y":31.8,"t":"Bicoherence of Magnetic Probes"}]},"mark":{"type":"text","align":"center","fontSize":25},"encoding":{"text":{"field":"t"}}}
]}
]
}
